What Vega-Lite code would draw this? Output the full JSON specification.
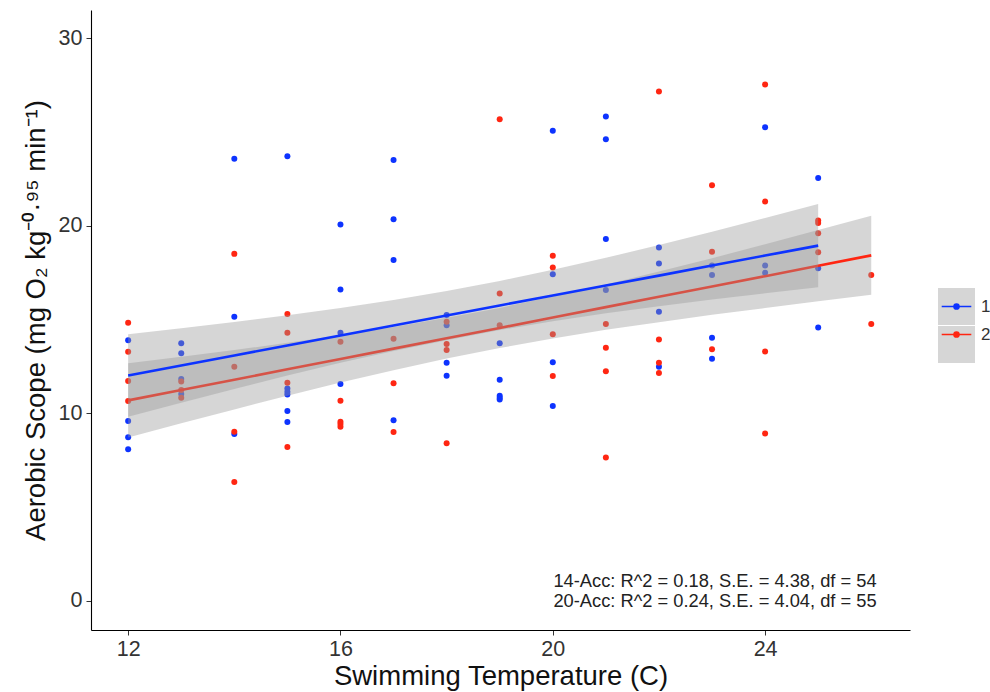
{
  "$schema": "https://vega.github.io/schema/vega-lite/v6.json",
  "width": 819,
  "height": 620,
  "autosize": {"type": "none"},
  "padding": {"left": 91, "top": 10, "right": 80, "bottom": 62},
  "background": "white",
  "config": {
    "view": {"stroke": null},
    "font": "Liberation Sans",
    "axis": {
      "grid": false,
      "domainColor": "#000000",
      "domainWidth": 1.1,
      "tickColor": "#333333",
      "tickSize": 5,
      "tickWidth": 1,
      "labelFont": "Liberation Sans",
      "labelFontSize": 21.5,
      "labelColor": "#333333",
      "titleFont": "Liberation Sans",
      "titleFontSize": 27.5,
      "titleFontWeight": "normal",
      "titleColor": "#111111"
    }
  },
  "datasets": {
    "pts": [
      {"group": "14-Acc", "temp": 12, "scope": 13.9},
      {"group": "14-Acc", "temp": 12, "scope": 9.59},
      {"group": "14-Acc", "temp": 12, "scope": 8.72},
      {"group": "14-Acc", "temp": 12, "scope": 8.08},
      {"group": "14-Acc", "temp": 13, "scope": 13.73},
      {"group": "14-Acc", "temp": 13, "scope": 13.2},
      {"group": "14-Acc", "temp": 13, "scope": 11.83},
      {"group": "14-Acc", "temp": 13, "scope": 11.03},
      {"group": "14-Acc", "temp": 14, "scope": 23.57},
      {"group": "14-Acc", "temp": 14, "scope": 15.15},
      {"group": "14-Acc", "temp": 14, "scope": 8.9},
      {"group": "14-Acc", "temp": 15, "scope": 23.7},
      {"group": "14-Acc", "temp": 15, "scope": 11.33},
      {"group": "14-Acc", "temp": 15, "scope": 11.15},
      {"group": "14-Acc", "temp": 15, "scope": 11.01},
      {"group": "14-Acc", "temp": 15, "scope": 10.12},
      {"group": "14-Acc", "temp": 15, "scope": 9.54},
      {"group": "14-Acc", "temp": 16, "scope": 20.07},
      {"group": "14-Acc", "temp": 16, "scope": 16.6},
      {"group": "14-Acc", "temp": 16, "scope": 14.3},
      {"group": "14-Acc", "temp": 16, "scope": 11.56},
      {"group": "14-Acc", "temp": 17, "scope": 23.5},
      {"group": "14-Acc", "temp": 17, "scope": 20.35},
      {"group": "14-Acc", "temp": 17, "scope": 18.17},
      {"group": "14-Acc", "temp": 17, "scope": 9.63},
      {"group": "14-Acc", "temp": 18, "scope": 15.24},
      {"group": "14-Acc", "temp": 18, "scope": 14.7},
      {"group": "14-Acc", "temp": 18, "scope": 12.7},
      {"group": "14-Acc", "temp": 18, "scope": 12.0},
      {"group": "14-Acc", "temp": 19, "scope": 13.73},
      {"group": "14-Acc", "temp": 19, "scope": 11.79},
      {"group": "14-Acc", "temp": 19, "scope": 10.94},
      {"group": "14-Acc", "temp": 19, "scope": 10.83},
      {"group": "14-Acc", "temp": 19, "scope": 10.74},
      {"group": "14-Acc", "temp": 20, "scope": 25.06},
      {"group": "14-Acc", "temp": 20, "scope": 17.42},
      {"group": "14-Acc", "temp": 20, "scope": 12.72},
      {"group": "14-Acc", "temp": 20, "scope": 10.39},
      {"group": "14-Acc", "temp": 21, "scope": 25.82},
      {"group": "14-Acc", "temp": 21, "scope": 24.61},
      {"group": "14-Acc", "temp": 21, "scope": 19.29},
      {"group": "14-Acc", "temp": 21, "scope": 16.57},
      {"group": "14-Acc", "temp": 22, "scope": 18.84},
      {"group": "14-Acc", "temp": 22, "scope": 17.99},
      {"group": "14-Acc", "temp": 22, "scope": 15.41},
      {"group": "14-Acc", "temp": 22, "scope": 12.48},
      {"group": "14-Acc", "temp": 23, "scope": 17.88},
      {"group": "14-Acc", "temp": 23, "scope": 17.37},
      {"group": "14-Acc", "temp": 23, "scope": 14.03},
      {"group": "14-Acc", "temp": 23, "scope": 12.91},
      {"group": "14-Acc", "temp": 24, "scope": 25.25},
      {"group": "14-Acc", "temp": 24, "scope": 17.88},
      {"group": "14-Acc", "temp": 24, "scope": 17.49},
      {"group": "14-Acc", "temp": 25, "scope": 22.54},
      {"group": "14-Acc", "temp": 25, "scope": 17.74},
      {"group": "14-Acc", "temp": 25, "scope": 14.58},
      {"group": "20-Acc", "temp": 12, "scope": 14.83},
      {"group": "20-Acc", "temp": 12, "scope": 13.28},
      {"group": "20-Acc", "temp": 12, "scope": 11.72},
      {"group": "20-Acc", "temp": 12, "scope": 10.66},
      {"group": "20-Acc", "temp": 13, "scope": 11.69},
      {"group": "20-Acc", "temp": 13, "scope": 11.24},
      {"group": "20-Acc", "temp": 13, "scope": 10.83},
      {"group": "20-Acc", "temp": 14, "scope": 18.5},
      {"group": "20-Acc", "temp": 14, "scope": 12.48},
      {"group": "20-Acc", "temp": 14, "scope": 9.02},
      {"group": "20-Acc", "temp": 14, "scope": 6.34},
      {"group": "20-Acc", "temp": 15, "scope": 15.29},
      {"group": "20-Acc", "temp": 15, "scope": 14.3},
      {"group": "20-Acc", "temp": 15, "scope": 11.63},
      {"group": "20-Acc", "temp": 15, "scope": 8.2},
      {"group": "20-Acc", "temp": 16, "scope": 13.82},
      {"group": "20-Acc", "temp": 16, "scope": 10.67},
      {"group": "20-Acc", "temp": 16, "scope": 9.55},
      {"group": "20-Acc", "temp": 16, "scope": 9.43},
      {"group": "20-Acc", "temp": 16, "scope": 9.29},
      {"group": "20-Acc", "temp": 17, "scope": 13.98},
      {"group": "20-Acc", "temp": 17, "scope": 11.61},
      {"group": "20-Acc", "temp": 17, "scope": 9.0},
      {"group": "20-Acc", "temp": 18, "scope": 14.88},
      {"group": "20-Acc", "temp": 18, "scope": 13.69},
      {"group": "20-Acc", "temp": 18, "scope": 13.37},
      {"group": "20-Acc", "temp": 18, "scope": 8.4},
      {"group": "20-Acc", "temp": 19, "scope": 25.68},
      {"group": "20-Acc", "temp": 19, "scope": 16.39},
      {"group": "20-Acc", "temp": 19, "scope": 14.7},
      {"group": "20-Acc", "temp": 20, "scope": 18.4},
      {"group": "20-Acc", "temp": 20, "scope": 17.78},
      {"group": "20-Acc", "temp": 20, "scope": 14.21},
      {"group": "20-Acc", "temp": 20, "scope": 11.99},
      {"group": "20-Acc", "temp": 21, "scope": 14.76},
      {"group": "20-Acc", "temp": 21, "scope": 13.5},
      {"group": "20-Acc", "temp": 21, "scope": 12.24},
      {"group": "20-Acc", "temp": 21, "scope": 7.64},
      {"group": "20-Acc", "temp": 22, "scope": 27.16},
      {"group": "20-Acc", "temp": 22, "scope": 13.94},
      {"group": "20-Acc", "temp": 22, "scope": 12.7},
      {"group": "20-Acc", "temp": 22, "scope": 12.15},
      {"group": "20-Acc", "temp": 23, "scope": 22.16},
      {"group": "20-Acc", "temp": 23, "scope": 18.61},
      {"group": "20-Acc", "temp": 23, "scope": 13.41},
      {"group": "20-Acc", "temp": 24, "scope": 27.53},
      {"group": "20-Acc", "temp": 24, "scope": 21.29},
      {"group": "20-Acc", "temp": 24, "scope": 13.3},
      {"group": "20-Acc", "temp": 24, "scope": 8.93},
      {"group": "20-Acc", "temp": 25, "scope": 20.28},
      {"group": "20-Acc", "temp": 25, "scope": 20.15},
      {"group": "20-Acc", "temp": 25, "scope": 19.6},
      {"group": "20-Acc", "temp": 25, "scope": 18.59},
      {"group": "20-Acc", "temp": 26, "scope": 17.37},
      {"group": "20-Acc", "temp": 26, "scope": 14.76}
    ],
    "fit": [
      {"group": "14-Acc", "temp": 12, "fit": 12.02, "lo": 9.82, "hi": 14.22},
      {"group": "14-Acc", "temp": 13, "fit": 12.55, "lo": 10.57, "hi": 14.54},
      {"group": "14-Acc", "temp": 14, "fit": 13.08, "lo": 11.30, "hi": 14.87},
      {"group": "14-Acc", "temp": 15, "fit": 13.62, "lo": 12.01, "hi": 15.23},
      {"group": "14-Acc", "temp": 16, "fit": 14.15, "lo": 12.69, "hi": 15.61},
      {"group": "14-Acc", "temp": 17, "fit": 14.68, "lo": 13.32, "hi": 16.04},
      {"group": "14-Acc", "temp": 18, "fit": 15.21, "lo": 13.90, "hi": 16.52},
      {"group": "14-Acc", "temp": 19, "fit": 15.75, "lo": 14.44, "hi": 17.06},
      {"group": "14-Acc", "temp": 20, "fit": 16.28, "lo": 14.91, "hi": 17.65},
      {"group": "14-Acc", "temp": 21, "fit": 16.81, "lo": 15.33, "hi": 18.29},
      {"group": "14-Acc", "temp": 22, "fit": 17.34, "lo": 15.71, "hi": 18.97},
      {"group": "14-Acc", "temp": 23, "fit": 17.88, "lo": 16.07, "hi": 19.68},
      {"group": "14-Acc", "temp": 24, "fit": 18.41, "lo": 16.40, "hi": 20.41},
      {"group": "14-Acc", "temp": 25, "fit": 18.94, "lo": 16.72, "hi": 21.16},
      {"group": "20-Acc", "temp": 12, "fit": 10.69, "lo": 8.71, "hi": 12.67},
      {"group": "20-Acc", "temp": 13, "fit": 11.24, "lo": 9.47, "hi": 13.01},
      {"group": "20-Acc", "temp": 14, "fit": 11.79, "lo": 10.21, "hi": 13.37},
      {"group": "20-Acc", "temp": 15, "fit": 12.35, "lo": 10.94, "hi": 13.76},
      {"group": "20-Acc", "temp": 16, "fit": 12.90, "lo": 11.64, "hi": 14.16},
      {"group": "20-Acc", "temp": 17, "fit": 13.45, "lo": 12.30, "hi": 14.60},
      {"group": "20-Acc", "temp": 18, "fit": 14.00, "lo": 12.92, "hi": 15.09},
      {"group": "20-Acc", "temp": 19, "fit": 14.55, "lo": 13.48, "hi": 15.62},
      {"group": "20-Acc", "temp": 20, "fit": 15.11, "lo": 13.99, "hi": 16.23},
      {"group": "20-Acc", "temp": 21, "fit": 15.66, "lo": 14.45, "hi": 16.87},
      {"group": "20-Acc", "temp": 22, "fit": 16.21, "lo": 14.86, "hi": 17.56},
      {"group": "20-Acc", "temp": 23, "fit": 16.76, "lo": 15.25, "hi": 18.27},
      {"group": "20-Acc", "temp": 24, "fit": 17.31, "lo": 15.61, "hi": 19.01},
      {"group": "20-Acc", "temp": 25, "fit": 17.87, "lo": 15.98, "hi": 19.77},
      {"group": "20-Acc", "temp": 26, "fit": 18.42, "lo": 16.32, "hi": 20.53}
    ],
    "ann": [
      {"label": "14-Acc: R^2 = 0.18, S.E. = 4.38, df = 54", "temp": 26.1, "scope": 1.01},
      {"label": "20-Acc: R^2 = 0.24, S.E. = 4.04, df = 55", "temp": 26.1, "scope": -0.05}
    ]
  },
  "layer": [
    {
      "data": {"name": "pts"},
      "mark": {"type": "point", "filled": true, "shape": "circle", "size": 36, "opacity": 1},
      "encoding": {
        "x": {"field": "temp", "type": "quantitative", "scale": {"domain": [11.3, 26.73], "nice": false, "zero": false},
              "axis": {"values": [12, 16, 20, 24], "title": "Swimming Temperature (C)", "labelPadding": 3, "titlePadding": 3}},
        "y": {"field": "scope", "type": "quantitative", "scale": {"domain": [-1.55, 31.5], "nice": false, "zero": false},
              "axis": {"values": [0, 10, 20, 30], "title": "Aerobic Scope (mg O₂ kg⁻⁰·⁹⁵ min⁻¹)", "labelPadding": 4, "titlePadding": 8}},
        "color": {"field": "group", "type": "nominal", "scale": {"range": ["#0d33ff", "#ff2612"]},
          "legend": {
            "title": null, "orient": "none", "legendX": 846, "legendY": 277, "padding": 0, "zindex": 5,
            "symbolType": "M-0.8,0H0.8M-0.14,0A0.14,0.14 0 1,1 0.14,0A0.14,0.14 0 1,1 -0.14,0Z",
            "symbolSize": 1369, "rowPadding": 0, "labelFontSize": 17, "labelColor": "#333333", "labelOffset": 5,
            "encode": {"symbols": {"update": {"fill": {"scale": "color", "field": "value"}, "stroke": {"scale": "color", "field": "value"}, "strokeWidth": {"value": 2.5}, "opacity": {"value": 1}}}}
          }}
      }
    },
    {
      "data": {"name": "fit"},
      "transform": [{"filter": "datum.group === '20-Acc'"}],
      "mark": {"type": "area", "opacity": 0.4},
      "encoding": {
        "x": {"field": "temp", "type": "quantitative"},
        "y": {"field": "lo", "type": "quantitative"},
        "y2": {"field": "hi"},
        "fill": {"field": "group", "type": "nominal", "scale": {"range": ["#999999", "#999999"]},
          "legend": {
            "title": null, "orient": "none", "legendX": 846, "legendY": 277, "padding": 0, "zindex": 1,
            "symbolType": "square", "symbolSize": 1369, "rowPadding": 0, "labelExpr": "''", "labelFontSize": 17, "labelOffset": 5,
            "encode": {"symbols": {"update": {"fill": {"value": "#c2c2c2"}, "fillOpacity": {"value": 1}, "opacity": {"value": 1}, "stroke": {"value": "#acacac"}, "strokeWidth": {"value": 0.7}}}}
          }}
      }
    },
    {
      "data": {"name": "fit"},
      "transform": [{"filter": "datum.group === '20-Acc'"}],
      "mark": {"type": "line", "strokeWidth": 2.6},
      "encoding": {
        "x": {"field": "temp", "type": "quantitative"},
        "y": {"field": "fit", "type": "quantitative"},
        "color": {"field": "group", "type": "nominal"}
      }
    },
    {
      "data": {"name": "fit"},
      "transform": [{"filter": "datum.group === '14-Acc'"}],
      "mark": {"type": "area", "opacity": 0.4},
      "encoding": {
        "x": {"field": "temp", "type": "quantitative"},
        "y": {"field": "lo", "type": "quantitative"},
        "y2": {"field": "hi"},
        "fill": {"field": "group", "type": "nominal"}
      }
    },
    {
      "data": {"name": "fit"},
      "transform": [{"filter": "datum.group === '14-Acc'"}],
      "mark": {"type": "line", "strokeWidth": 2.6},
      "encoding": {
        "x": {"field": "temp", "type": "quantitative"},
        "y": {"field": "fit", "type": "quantitative"},
        "color": {"field": "group", "type": "nominal"}
      }
    },
    {
      "data": {"name": "ann"},
      "mark": {"type": "text", "align": "right", "baseline": "middle", "fontSize": 18.3, "color": "#222222", "font": "Liberation Sans"},
      "encoding": {
        "x": {"field": "temp", "type": "quantitative"},
        "y": {"field": "scope", "type": "quantitative"},
        "text": {"field": "label"}
      }
    }
  ]
}
